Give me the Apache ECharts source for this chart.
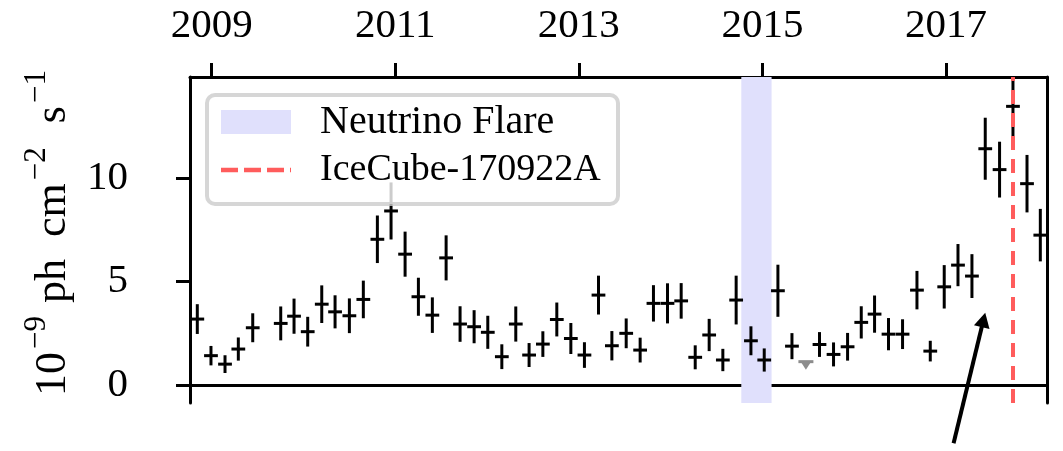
<!DOCTYPE html>
<html>
<head>
<meta charset="utf-8">
<script src="https://cdn.jsdelivr.net/npm/echarts@6/dist/echarts.min.js"></script>
<style>
  html, body { margin: 0; padding: 0; background: #ffffff; }
  #chart { width: 1063px; height: 451px; }
</style>
</head>
<body>
<div id="chart"></div>
<script>
// Gamma-ray light curve of TXS 0506+056 (Fermi-LAT), 55-day bins.
// Bin centres in decimal years
const binCentres = [
  2008.843, 2008.992, 2009.145, 2009.290, 2009.447, 2009.752, 2009.897, 2010.046,
  2010.199, 2010.344, 2010.500, 2010.652, 2010.805, 2010.954, 2011.107, 2011.252,
  2011.404, 2011.554, 2011.706, 2011.859, 2012.008, 2012.161, 2012.313, 2012.458,
  2012.608, 2012.760, 2012.913, 2013.061, 2013.214, 2013.360, 2013.516, 2013.668,
  2013.813, 2013.966, 2014.115, 2014.268, 2014.420, 2014.569, 2014.714, 2014.875,
  2015.020, 2015.169, 2015.322, 2015.622, 2015.775, 2015.928, 2016.077, 2016.222,
  2016.374, 2016.527, 2016.684, 2016.829, 2016.981, 2017.131, 2017.283, 2017.428,
  2017.584, 2017.730, 2017.883, 2018.028
];
// Photon flux, 1e-9 ph cm^-2 s^-1
const flux = [
  3.19, 1.42, 1.01, 1.74, 2.77, 2.98, 3.33, 2.58,
  3.91, 3.54, 3.35, 4.14, 7.05, 8.42, 6.33, 4.27,
  3.38, 6.15, 2.95, 2.82, 2.55, 1.37, 2.95, 1.45,
  1.98, 3.17, 2.25, 1.45, 4.35, 1.90, 2.50, 1.69,
  3.95, 3.95, 4.07, 1.34, 2.42, 1.21, 4.11, 2.14,
  1.21, 4.56, 1.88, 1.96, 1.48, 1.85, 3.03, 3.43,
  2.46, 2.46, 4.59, 1.64, 4.75, 5.80, 5.27, 11.43,
  10.42, 13.48, 9.74, 7.25
];
// 1-sigma flux uncertainty
const fluxErr = [
  0.72, 0.47, 0.43, 0.56, 0.70, 0.82, 0.85, 0.72,
  0.91, 0.80, 0.84, 0.91, 1.15, 1.38, 1.09, 0.92,
  0.86, 1.09, 0.86, 0.80, 0.80, 0.60, 0.85, 0.58,
  0.62, 0.82, 0.75, 0.62, 0.94, 0.71, 0.72, 0.60,
  0.88, 0.97, 0.86, 0.58, 0.78, 0.54, 1.18, 0.70,
  0.56, 1.26, 0.63, 0.60, 0.58, 0.67, 0.78, 0.90,
  0.78, 0.72, 0.93, 0.50, 1.05, 1.02, 1.06, 1.50,
  1.35, 1.45, 1.39, 1.27
];
const binHalfWidth = 0.075;          // half of a 55-day bin, in years
const upperLimitYears = [2015.474];
const upperLimitFlux = [1.13];
const flareWindow = [2014.77, 2015.10];
const alertTime = 2017.73;           // IceCube-170922A
const yearTicks = [2009, 2011, 2013, 2015, 2017];
const fluxTicks = [0, 5, 10];
const legendNames = ['Neutrino Flare', 'IceCube-170922A'];
const arrowTail = [2017.083, -2.82];
const arrowHead = [2017.428, 3.50];

const SERIF = "'Liberation Serif', 'DejaVu Serif', serif";
const X_MIN = 2008.7635, X_MAX = 2018.1008;
const Y_MIN = -0.87, Y_MAX = 14.9;
const BAND = 'rgb(224,224,252)';
const ALERT = '#ff5c5c';

const chart = echarts.init(document.getElementById('chart'), null, { renderer: 'canvas' });

const axisLineStyle = { color: '#000', width: 3 };

const option = {
  animation: false,
  backgroundColor: '#ffffff',
  grid: { left: 190, right: 16, top: 77, bottom: 48, containLabel: false },
  xAxis: [
    {
      type: 'value', position: 'top', min: X_MIN, max: X_MAX,
      axisLine: { show: true, onZero: false, lineStyle: axisLineStyle },
      axisTick: { show: true, inside: false, length: 14, lineStyle: { color: '#000', width: 3 }, customValues: yearTicks },
      axisLabel: { show: true, margin: 30, fontSize: 41, fontFamily: SERIF, color: '#000', customValues: yearTicks,
                   formatter: v => String(v) },
      splitLine: { show: false }
    },
    {
      type: 'value', position: 'bottom', min: X_MIN, max: X_MAX,
      axisLine: { show: true, onZero: true, lineStyle: axisLineStyle },
      axisTick: { show: false }, axisLabel: { show: false }, splitLine: { show: false }
    }
  ],
  yAxis: [
    {
      type: 'value', position: 'left', min: Y_MIN, max: Y_MAX,
      axisLine: { show: true, onZero: false, lineStyle: axisLineStyle },
      axisTick: { show: true, inside: false, length: 14, lineStyle: { color: '#000', width: 3 }, customValues: fluxTicks },
      axisLabel: { show: true, margin: 62, fontSize: 41, fontFamily: SERIF, color: '#000', customValues: fluxTicks,
                   formatter: v => String(v) },
      splitLine: { show: false }
    },
    {
      type: 'value', position: 'right', min: Y_MIN, max: Y_MAX,
      axisLine: { show: true, onZero: false, lineStyle: axisLineStyle },
      axisTick: { show: false }, axisLabel: { show: false }, splitLine: { show: false }
    }
  ],
  series: [
    {
      // flare window band and alert line
      name: 'markers', type: 'line', data: [], z: 1, silent: true,
      markArea: {
        silent: true,
        itemStyle: { color: BAND, opacity: 1 },
        data: [[{ xAxis: flareWindow[0] }, { xAxis: flareWindow[1] }]]
      },
      markLine: {
        silent: true, symbol: ['none', 'none'], label: { show: false },
        lineStyle: { color: ALERT, width: 4, type: [14, 9] },
        data: [{ xAxis: alertTime }]
      }
    },
    {
      name: 'flux', type: 'custom', z: 3, clip: true,
      data: binCentres.map((x, i) => [x, flux[i], fluxErr[i]]),
      encode: { x: 0, y: 1 },
      renderItem: (params, api) => {
        const x = api.value(0), y = api.value(1), e = api.value(2);
        const c = api.coord([x, y]);
        const left = api.coord([x - binHalfWidth, y])[0];
        const right = api.coord([x + binHalfWidth, y])[0];
        const top = api.coord([x, y + e])[1];
        const bottom = api.coord([x, y - e])[1];
        const style = { stroke: '#000', lineWidth: 3, fill: null };
        return {
          type: 'group',
          children: [
            { type: 'line', shape: { x1: c[0], y1: top, x2: c[0], y2: bottom }, style },
            { type: 'line', shape: { x1: left, y1: c[1], x2: right, y2: c[1] }, style }
          ]
        };
      }
    },
    {
      name: 'upper limits', type: 'custom', z: 3,
      data: upperLimitYears.map((x, i) => [x, upperLimitFlux[i]]),
      encode: { x: 0, y: 1 },
      renderItem: (params, api) => {
        const c = api.coord([api.value(0), api.value(1)]);
        const col = '#8c8c8c';
        return {
          type: 'group',
          children: [
            { type: 'line', shape: { x1: c[0] - 7.5, y1: c[1], x2: c[0] + 7.5, y2: c[1] }, style: { stroke: col, lineWidth: 3 } },
            { type: 'polygon', shape: { points: [[c[0] - 4.5, c[1] + 1], [c[0] + 4.5, c[1] + 1], [c[0], c[1] + 8]] },
              style: { fill: col } }
          ]
        };
      }
    }
  ]
};

chart.setOption(option);

// legend box, axis title and annotation arrow
const tail = chart.convertToPixel({ xAxisIndex: 0, yAxisIndex: 0 }, arrowTail);
const tip = chart.convertToPixel({ xAxisIndex: 0, yAxisIndex: 0 }, arrowHead);
const dx = tip[0] - tail[0], dy = tip[1] - tail[1];
const len = Math.sqrt(dx * dx + dy * dy);
const ux = dx / len, uy = dy / len;
const headLen = 15, headHalf = 8;
const baseX = tip[0] - ux * headLen, baseY = tip[1] - uy * headLen;

const yLabel = '{b|10}{s|\u22129}{b| ph  cm}{s|\u22122}{b|  s}{s|\u22121}';

chart.setOption({
  graphic: [
    {
      type: 'rect', z: 20,
      shape: { x: 207, y: 95, width: 411, height: 109, r: 8 },
      style: { fill: 'rgba(255,255,255,0.8)', stroke: 'rgba(204,204,204,0.8)', lineWidth: 4 }
    },
    {
      type: 'rect', z: 21,
      shape: { x: 221, y: 110, width: 70, height: 24 },
      style: { fill: BAND }
    },
    {
      type: 'line', z: 21,
      shape: { x1: 221, y1: 170, x2: 291, y2: 170 },
      style: { stroke: ALERT, lineWidth: 4.5, lineDash: [17, 6] }
    },
    {
      type: 'text', z: 21, x: 320, y: 122,
      style: { text: legendNames[0], fontSize: 40, fontFamily: SERIF, fill: '#000', verticalAlign: 'middle', align: 'left' }
    },
    {
      type: 'text', z: 21, x: 320, y: 170,
      style: { text: legendNames[1], fontSize: 38, fontFamily: SERIF, fill: '#000', verticalAlign: 'middle', align: 'left' }
    },
    {
      type: 'text', z: 10, x: 48, y: 232, rotation: Math.PI / 2,
      style: {
        text: yLabel, align: 'center', verticalAlign: 'middle', fill: '#000',
        rich: {
          b: { fontSize: 44, fontFamily: SERIF, lineHeight: 54, verticalAlign: 'bottom' },
          s: { fontSize: 31, fontFamily: SERIF, lineHeight: 24, verticalAlign: 'top', padding: [0, 2, 0, 3] }
        }
      }
    },
    {
      type: 'line', z: 10,
      shape: { x1: tail[0], y1: tail[1], x2: baseX + ux * 2, y2: baseY + uy * 2 },
      style: { stroke: '#000', lineWidth: 4 }
    },
    {
      type: 'polygon', z: 10,
      shape: { points: [
        [tip[0], tip[1]],
        [baseX - uy * headHalf, baseY + ux * headHalf],
        [baseX + uy * headHalf, baseY - ux * headHalf]
      ] },
      style: { fill: '#000' }
    }
  ]
});
</script>
</body>
</html>
